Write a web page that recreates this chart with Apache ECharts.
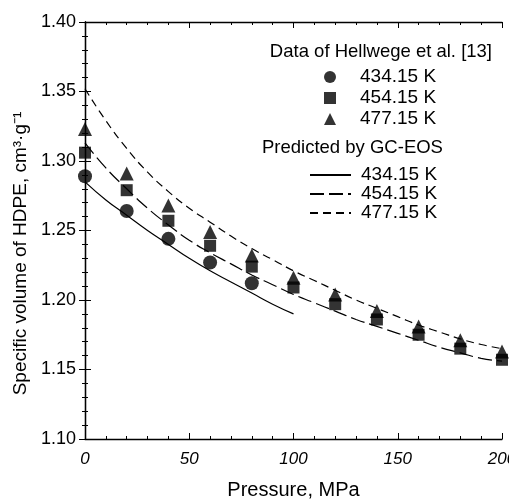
<!DOCTYPE html>
<html>
<head>
<meta charset="utf-8">
<script src="https://cdn.jsdelivr.net/npm/echarts@6/dist/echarts.min.js"></script>
<style>
html,body{margin:0;padding:0;background:#fff;}
#c{width:509px;height:503px;}
</style>
</head>
<body>
<div id="c"></div>
<script>
// ---- data ----
const pressureData = [0, 20, 40, 60, 80, 100, 120, 140, 160, 180, 200];
const exp434 = [1.289, 1.264, 1.244, 1.227, 1.212];
const exp454 = [1.306, 1.279, 1.257, 1.239, 1.224, 1.209, 1.197, 1.186, 1.175, 1.165, 1.157];
const exp477 = [1.323, 1.291, 1.268, 1.249, 1.232, 1.216, 1.204, 1.192, 1.181, 1.171, 1.163];

const pressureLine = [0, 10, 20, 30, 40, 50, 60, 70, 80, 90, 100, 110, 120, 130, 140, 150, 160, 170, 180, 190, 200];
const pred434 = [1.285, 1.272, 1.261, 1.250, 1.240, 1.230, 1.221, 1.213, 1.205, 1.197, 1.190];
const pred454 = [1.313, 1.295, 1.280, 1.266, 1.254, 1.243, 1.234, 1.226, 1.218, 1.211, 1.204, 1.198, 1.192, 1.186, 1.181, 1.176, 1.171, 1.166, 1.162, 1.158, 1.156];
const pred477 = [1.352, 1.329, 1.309, 1.292, 1.278, 1.266, 1.256, 1.246, 1.237, 1.229, 1.221, 1.214, 1.207, 1.200, 1.194, 1.188, 1.182, 1.177, 1.172, 1.168, 1.165];

const tempLabels = ['434.15 K', '454.15 K', '477.15 K'];
const xTicks = [0, 50, 100, 150, 200];
const yTicks = [1.10, 1.15, 1.20, 1.25, 1.30, 1.35, 1.40];

function pairs(xs, ys) { return ys.map((v, i) => [xs[i], v]); }

const FONT = '"Liberation Sans", Arial, Helvetica, sans-serif';
const chart = echarts.init(document.getElementById('c'));

const commonAxisLine = { show: true, lineStyle: { color: '#000', width: 1.3 } };
const commonTick = { show: true, inside: true, length: 6, lineStyle: { color: '#000', width: 1 } };
const commonMinor = { show: true, splitNumber: 5, length: 3, lineStyle: { color: '#000', width: 1 } };

const option = {
  backgroundColor: '#fff',
  animation: false,
  textStyle: { fontFamily: FONT },
  grid: { left: 85, right: 7, top: 22, bottom: 64, containLabel: false, outerBoundsMode: 'none' },
  xAxis: [{
    type: 'value', min: xTicks[0], max: xTicks[xTicks.length - 1], interval: 50,
    position: 'bottom',
    axisLine: commonAxisLine, axisTick: commonTick, minorTick: commonMinor,
    splitLine: { show: false },
    axisLabel: { color: '#000', fontSize: 17, fontStyle: 'italic', fontFamily: FONT, margin: 12, hideOverlap: false },
    name: 'Pressure, MPa', nameLocation: 'middle', nameGap: 41,
    nameTextStyle: { color: '#000', fontSize: 20, fontFamily: FONT }
  }, {
    type: 'value', min: xTicks[0], max: xTicks[xTicks.length - 1], interval: 50,
    position: 'top',
    axisLine: commonAxisLine, axisTick: commonTick, minorTick: commonMinor,
    splitLine: { show: false }, axisLabel: { show: false }
  }],
  yAxis: [{
    type: 'value', min: yTicks[0], max: yTicks[yTicks.length - 1], interval: 0.05,
    position: 'left',
    axisLine: commonAxisLine, axisTick: commonTick, minorTick: commonMinor,
    splitLine: { show: false },
    axisLabel: { color: '#000', fontSize: 18, fontFamily: FONT, margin: 9, formatter: v => v.toFixed(2) },
    name: 'Specific volume of HDPE, cm³·g⁻¹', nameLocation: 'middle', nameGap: 52, nameRotate: 90,
    nameTextStyle: { color: '#000', fontSize: 19, fontFamily: FONT, padding: [0, 46, 0, 0] }
  }, {
    type: 'value', min: yTicks[0], max: yTicks[yTicks.length - 1], interval: 0.05,
    position: 'right',
    axisLine: commonAxisLine, axisTick: commonTick, minorTick: commonMinor,
    splitLine: { show: false }, axisLabel: { show: false }
  }],
  legend: [{
    orient: 'vertical', left: 324, top: 66.5, padding: 0, itemGap: 0, itemWidth: 12, itemHeight: 12,
    data: ['d434', 'd454', 'd477'],
    formatter: n => ({ d434: tempLabels[0], d454: tempLabels[1], d477: tempLabels[2] })[n],
    textStyle: { color: '#000', fontSize: 19, lineHeight: 21, fontFamily: FONT, padding: [0, 0, 0, 19] },
    selectedMode: false
  }, {
    orient: 'vertical', left: 309, top: 165.5, padding: 0, itemGap: 0, itemWidth: 41, itemHeight: 12,
    data: ['p434', 'p454', 'p477'],
    formatter: n => ({ p434: tempLabels[0], p454: tempLabels[1], p477: tempLabels[2] })[n],
    itemStyle: { opacity: 0 },
    textStyle: { color: '#000', fontSize: 19, lineHeight: 19, fontFamily: FONT, padding: [0, 0, 0, 5] },
    selectedMode: false
  }],
  graphic: [{
    type: 'text', right: 17, top: 42,
    style: { text: 'Data of Hellwege et al. [13]', fill: '#000', font: '18.5px ' + FONT }
  }, {
    type: 'text', left: 262, top: 138,
    style: { text: 'Predicted by GC-EOS', fill: '#000', font: '18.5px ' + FONT }
  }],
  series: [
    { name: 'p434', type: 'line', smooth: true, symbol: 'none', data: pairs(pressureLine, pred434),
      lineStyle: { color: '#000', width: 1.2, type: 'solid' }, itemStyle: { color: '#000' } },
    { name: 'p454', type: 'line', smooth: true, symbol: 'none', data: pairs(pressureLine, pred454),
      lineStyle: { color: '#000', width: 1.2, type: [14, 5] }, itemStyle: { color: '#000' } },
    { name: 'p477', type: 'line', smooth: true, symbol: 'none', data: pairs(pressureLine, pred477),
      lineStyle: { color: '#000', width: 1.2, type: [8, 5] }, itemStyle: { color: '#000' } },
    { name: 'd434', type: 'scatter', symbol: 'circle', symbolSize: 14, data: pairs(pressureData, exp434),
      itemStyle: { color: '#000' } },
    { name: 'd454', type: 'scatter', symbol: 'rect', symbolSize: 12, data: pairs(pressureData, exp454),
      itemStyle: { color: '#000' } },
    { name: 'd477', type: 'scatter', symbol: 'triangle', symbolSize: 14, data: pairs(pressureData, exp477),
      itemStyle: { color: '#000' } }
  ]
};
chart.setOption(option);
</script>
</body>
</html>
